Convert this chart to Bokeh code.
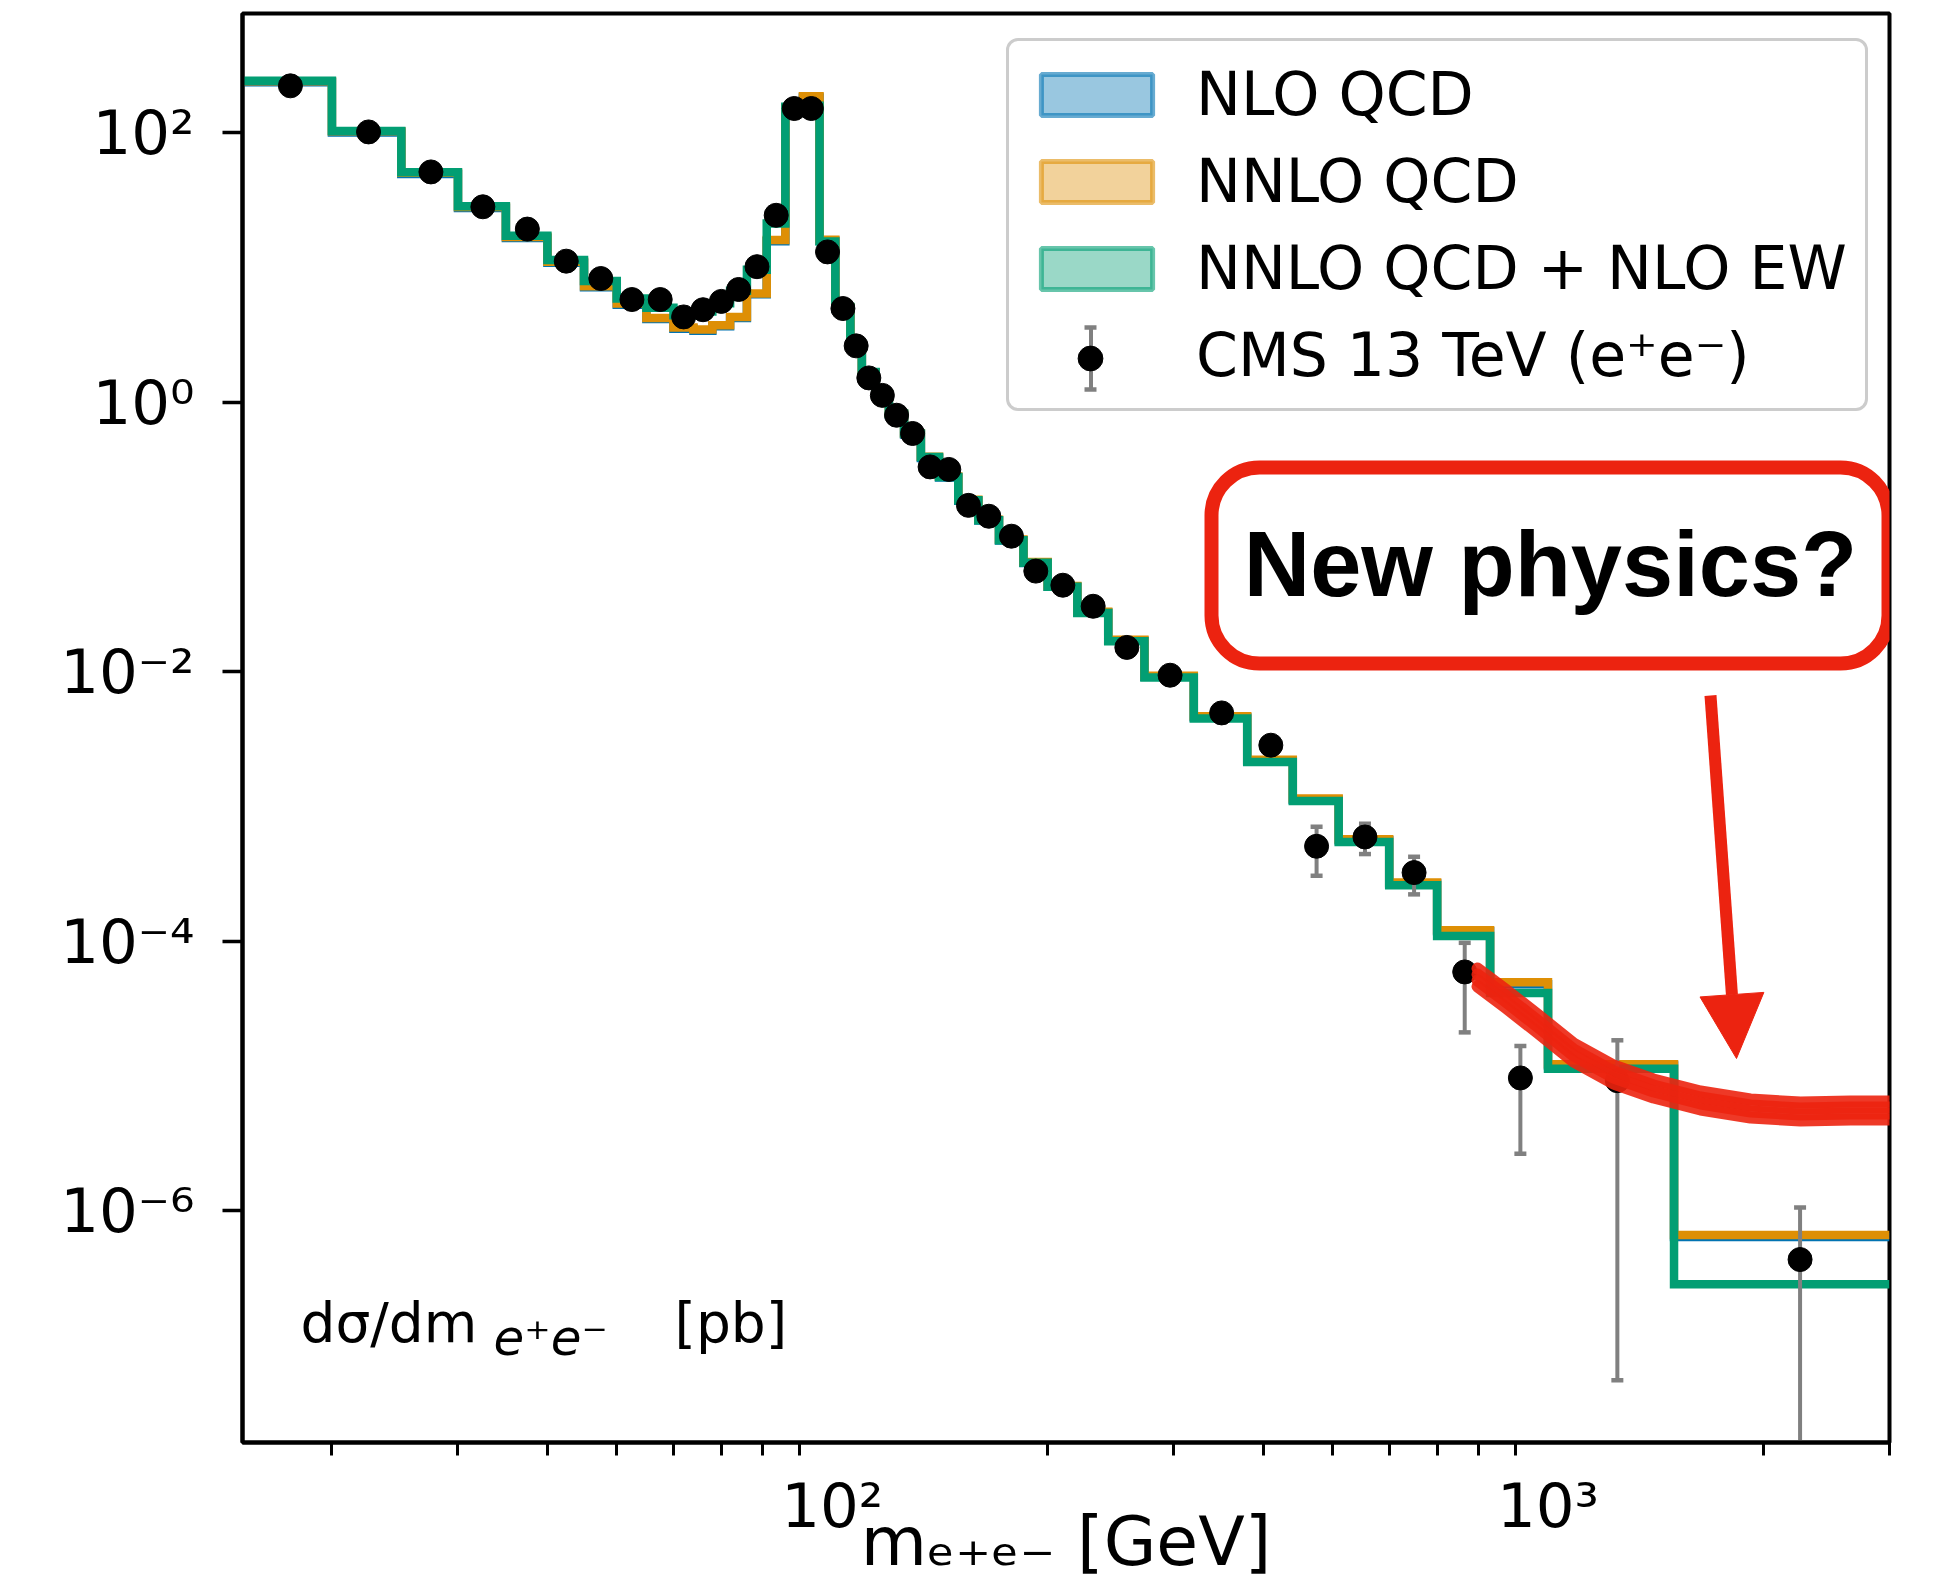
import math
from bokeh.plotting import figure
from bokeh.models import (FixedTicker, CustomJSTickFormatter, Legend, LegendItem,
                          BoxAnnotation, Label, Arrow, NormalHead, Range1d)
from bokeh.embed import file_html
from bokeh.resources import INLINE

# ---------------- data ----------------
bin_edges = [15, 20, 25, 30, 35, 40, 45, 50, 55, 60, 64, 68, 72, 76, 81, 86, 91, 96,
             101, 106, 110, 115, 120, 126, 133, 141, 150, 160, 171, 185, 200, 220,
             243, 273, 320, 380, 440, 510, 600, 700, 830, 1000, 1500, 3000]

cms_xsec = [222, 101, 51.0, 28.1, 19.2, 11.1, 8.25, 5.76, 5.76, 4.28, 4.84, 5.58, 6.84,
            10.1, 24.3, 150.7, 150.7, 13.0, 4.94, 2.61, 1.51, 1.12, 0.798, 0.584, 0.330,
            0.316, 0.171, 0.142, 0.101, 0.0556, 0.0437, 0.0305, 0.0151, 0.00939, 0.00493,
            0.00284, 5.05e-4, 5.92e-4, 3.22e-4, 5.90e-5, 9.64e-6, 9.2e-6, 4.33e-7]

cms_err = [5.0, 2.0, 1.0, 0.6, 0.4, 0.25, 0.18, 0.13, 0.13, 0.10, 0.11, 0.12, 0.15,
           0.22, 0.5, 3.0, 3.0, 0.3, 0.1, 0.06, 0.035, 0.027, 0.02, 0.015, 0.009,
           0.009, 0.0055, 0.0046, 0.0034, 0.0021, 0.0017, 0.0013, 0.0007, 0.00048, 0.0003,
           0.00019, 2.0e-4, 1.5e-4, 1.0e-4, 3.8e-5, 7.0e-6, 9.145e-6, 6.2e-7]

nlo_qcd = [236, 100, 49.3, 27.5, 16.5, 10.8, 7.1, 5.28, 4.13, 3.50, 3.38, 3.65, 4.2,
           6.3, 15.6, 149, 182, 15.7, 4.96, 2.65, 1.63, 1.13, 0.805, 0.575, 0.385,
           0.275, 0.185, 0.132, 0.094, 0.064, 0.0425, 0.0274, 0.0169, 0.00915, 0.00458,
           0.00217, 0.00112, 5.6e-4, 2.67e-4, 1.18e-4, 4.78e-5, 1.19e-5, 6.37e-7]

nnlo_qcd = [240, 102, 50.2, 28.0, 16.8, 11.0, 7.23, 5.38, 4.21, 3.57, 3.45, 3.72, 4.28,
            6.4, 15.9, 152, 186, 16.0, 5.05, 2.70, 1.66, 1.15, 0.82, 0.585, 0.392,
            0.280, 0.188, 0.134, 0.0955, 0.065, 0.0432, 0.0278, 0.0172, 0.00930, 0.00466,
            0.00221, 0.00114, 5.7e-4, 2.72e-4, 1.20e-4, 4.94e-5, 1.22e-5, 6.59e-7]

nnlo_qcd_nlo_ew = [242, 102.8, 50.7, 28.4, 17.1, 11.3, 7.92, 5.86, 5.0, 4.4, 4.7, 5.4, 6.7,
                   9.6, 21.1, 155, 158, 15.5, 5.08, 2.72, 1.67, 1.156, 0.821, 0.584, 0.391,
                   0.278, 0.1867, 0.1327, 0.0943, 0.0642, 0.0425, 0.0272, 0.0168, 0.00903,
                   0.00448, 0.00213, 0.001096, 5.44e-4, 2.59e-4, 1.09e-4, 4.12e-5, 1.13e-5,
                   2.84e-7]

legend_labels = ["NLO QCD", "NNLO QCD", "NNLO QCD + NLO EW", "CMS 13 TeV (e\u207ae\u207b)"]
y_major_ticks = [1e-6, 1e-4, 1e-2, 1, 100]
x_major_ticks = [100, 1000]
x_minor_ticks = [20, 30, 40, 50, 60, 70, 80, 90, 200, 300, 400, 500, 600, 700, 800, 900, 2000, 3000]

X_RANGE = (15, 3000)
Y_RANGE = (1.9e-8, 764)

C_BLUE = "#0173B2"
C_ORANGE = "#DE8F05"
C_GREEN = "#029E73"
C_RED = "#EC2310"
C_ERR = "#808080"
NAN = float("nan")

# ---------------- geometry (page pixels) ----------------
FRAME_L = 242
FRAME_T = 13
FRAME_W = 1647
FRAME_H = 1429
FRAME_B = FRAME_T + FRAME_H


def dx(px):
    lx0, lx1 = math.log10(X_RANGE[0]), math.log10(X_RANGE[1])
    return 10 ** (lx0 + (px - FRAME_L) / FRAME_W * (lx1 - lx0))


def dy(py):
    ly0, ly1 = math.log10(Y_RANGE[0]), math.log10(Y_RANGE[1])
    return 10 ** (ly1 - (py - FRAME_T) / FRAME_H * (ly1 - ly0))


p = figure(x_axis_type="log", y_axis_type="log",
           x_range=Range1d(*X_RANGE), y_range=Range1d(*Y_RANGE),
           frame_width=FRAME_W, frame_height=FRAME_H,
           min_border_left=FRAME_L, min_border_top=FRAME_T,
           min_border_right=40, min_border_bottom=110,
           output_backend="svg", toolbar_location=None, title=None)

p.grid.visible = False
p.background_fill_color = "white"
p.border_fill_color = "white"
p.outline_line_color = "black"
p.outline_line_width = 4
p.outline_line_alpha = 1

fmt = CustomJSTickFormatter(code="""
const sup = {"0":"\u2070","1":"\u00b9","2":"\u00b2","3":"\u00b3","4":"\u2074","5":"\u2075",
             "6":"\u2076","7":"\u2077","8":"\u2078","9":"\u2079","-":"\u207b"};
const e = Math.round(Math.log10(tick));
return "10" + String(e).split("").map(c => sup[c]).join("");
""")

for ax in (p.xaxis[0], p.yaxis[0]):
    ax.formatter = fmt
    ax.axis_line_color = "black"
    ax.axis_line_width = 4
    ax.major_label_text_font = "DejaVu Sans"
    ax.major_label_text_font_size = "61px"
    ax.major_label_text_color = "black"
    ax.major_tick_line_color = "black"
    ax.major_tick_line_width = 3.5
    ax.minor_tick_line_color = "black"
    ax.minor_tick_line_width = 3
    ax.major_tick_in = 0
    ax.minor_tick_in = 0

p.xaxis.ticker = FixedTicker(ticks=x_major_ticks, minor_ticks=x_minor_ticks)
p.xaxis.major_tick_out = 0
p.xaxis.minor_tick_out = 13
p.xaxis.major_label_standoff = 14
p.xaxis.axis_label = "m\u2091\u208a\u2091\u208b [GeV]"
p.xaxis.axis_label_text_font = "DejaVu Sans"
p.xaxis.axis_label_text_font_size = "68px"
p.xaxis.axis_label_text_font_style = "normal"
p.xaxis.axis_label_text_color = "black"
p.xaxis.axis_label_standoff = -42

p.yaxis.ticker = FixedTicker(ticks=y_major_ticks, minor_ticks=[])
p.yaxis.major_tick_out = 20
p.yaxis.minor_tick_out = 0
p.yaxis.major_label_standoff = 28

# ---------------- histograms ----------------
def step_vals(v):
    return list(v) + [v[-1]]

for vals, col in ((nlo_qcd, C_BLUE), (nnlo_qcd, C_ORANGE), (nnlo_qcd_nlo_ew, C_GREEN)):
    p.step(x=bin_edges, y=step_vals(vals), mode="after", line_color=col,
           line_width=8.5, line_join="miter")

# ---------------- data points ----------------
centers = [(a + b) / 2 for a, b in zip(bin_edges[:-1], bin_edges[1:])]
hi = [v + e for v, e in zip(cms_xsec, cms_err)]
lo = [v - e if v - e > 0 else 1e-12 for v, e in zip(cms_xsec, cms_err)]
p.segment(x0=centers, y0=lo, x1=centers, y1=hi, line_color=C_ERR, line_width=4)
cap_x = centers + [c for c, l in zip(centers, lo) if l > 1e-11]
cap_y = hi + [l for l in lo if l > 1e-11]
p.scatter(x=cap_x, y=cap_y, marker="dash", size=12, line_color=C_ERR, line_width=4.5)
p.scatter(x=centers, y=cms_xsec, size=24, fill_color="black", line_color="black")

# ---------------- red annotations ----------------
scribble_center = [(1477, 977), (1505, 998), (1537, 1023), (1573, 1052), (1613, 1074),
                   (1653, 1088), (1700, 1100), (1750, 1108), (1800, 1111), (1850, 1110),
                   (1925, 1110)]
scribble_offsets = [-9, -3, 3, 9]
p.multi_line(xs=[[dx(a) for a, b in scribble_center] for o in scribble_offsets],
             ys=[[dy(b + o) for a, b in scribble_center] for o in scribble_offsets],
             line_color=C_RED, line_width=12, line_alpha=0.9, line_cap="round",
             line_join="round")

box = BoxAnnotation(left=dx(1211), right=dx(1888), top=dy(467), bottom=dy(663),
                    fill_alpha=0, line_color=C_RED, line_width=14, line_alpha=1)
if "border_radius" in BoxAnnotation.properties():
    box.border_radius = 48
p.add_layout(box)

p.add_layout(Label(x=dx(1550), y=dy(563), text="New physics?", text_align="center",
                   text_baseline="middle", text_font="Liberation Sans",
                   text_font_style="bold", text_font_size="92px", text_color="black"))

p.add_layout(Arrow(x_start=dx(1710), y_start=dy(695), x_end=dx(1736), y_end=dy(1058),
                   line_color=C_RED, line_width=12,
                   end=NormalHead(size=64, fill_color=C_RED, line_color=C_RED, line_width=1)))

# y quantity label inside the frame, built as main text + subscript + unit
p.add_layout(Label(x=dx(300), y=dy(1322), text="d\u03c3/dm", text_align="left",
                   text_baseline="middle", text_font="DejaVu Sans",
                   text_font_size="55px", text_color="black"))
p.add_layout(Label(x=dx(493), y=dy(1337), text="e\u207ae\u207b", text_align="left",
                   text_baseline="middle", text_font="DejaVu Sans", text_font_style="italic",
                   text_font_size="50px", text_color="black"))
p.add_layout(Label(x=dx(674), y=dy(1322), text="[pb]", text_align="left",
                   text_baseline="middle", text_font="DejaVu Sans",
                   text_font_size="55px", text_color="black"))

# ---------------- legend ----------------
dummies = []
for col in (C_BLUE, C_ORANGE, C_GREEN):
    dummies.append(p.quad(left=[NAN], right=[NAN], top=[NAN], bottom=[NAN], fill_color=col,
                          fill_alpha=0.4, line_color=col, line_alpha=0.6, line_width=5))
dummies.append(p.scatter(x=[NAN], y=[NAN], size=1, fill_alpha=0, line_alpha=0))

LEG_LEFT, LEG_BOTTOM, LEG_PAD, LEG_SPACING = 1006, 411, 18, 17
leg = Legend(items=[LegendItem(label=l, renderers=[r]) for l, r in zip(legend_labels, dummies)],
             location=(LEG_LEFT - FRAME_L, FRAME_B - LEG_BOTTOM),
             border_line_color="#cccccc", border_line_width=3.5, border_line_alpha=1,
             background_fill_color="white", background_fill_alpha=0.8,
             label_text_font="DejaVu Sans", label_text_font_size="60px",
             label_text_color="black", glyph_width=139, glyph_height=51,
             label_standoff=30, padding=LEG_PAD, spacing=LEG_SPACING, margin=0)
if "border_radius" in Legend.properties():
    leg.border_radius = 12
p.add_layout(leg)


def glyph_legend(renderer, w, h, cx, cy):
    lg = Legend(items=[LegendItem(label=" ", renderers=[renderer])],
                location=(int(round(cx - w / 2 - FRAME_L)), int(round(FRAME_B - cy - h / 2))),
                glyph_width=w, glyph_height=h, padding=0, margin=0, spacing=0,
                label_standoff=0, label_width=0, label_height=0,
                label_text_font_size="1px", border_line_alpha=0, background_fill_alpha=0)
    p.add_layout(lg)


bar_r = p.vbar(x=[NAN], top=[NAN], bottom=[NAN], width=1, fill_color=C_ERR, line_alpha=0)
cap_r = p.scatter(x=[NAN], y=[NAN], marker="dash", line_color=C_ERR, line_width=4.5)
dot_r = p.scatter(x=[NAN], y=[NAN], fill_color="black", line_color="black")
ROW4 = 358
glyph_legend(bar_r, 5, 78, 1090, ROW4)
glyph_legend(cap_r, 30, 30, 1090, ROW4 - 31)
glyph_legend(cap_r, 30, 30, 1090, ROW4 + 31)
glyph_legend(dot_r, 62, 62, 1090, ROW4)

open("out.html", "w").write(file_html(p, INLINE, title="Drell-Yan"))
